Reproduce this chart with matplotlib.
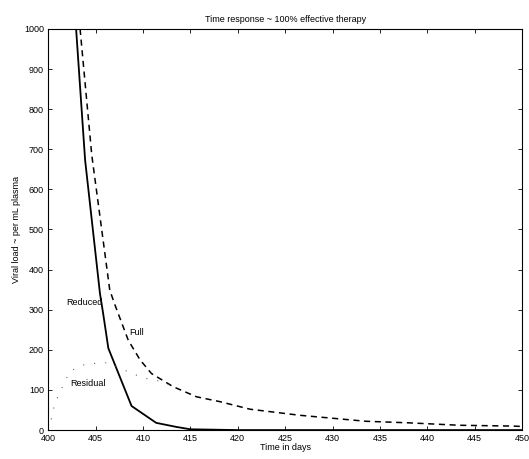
import matplotlib
matplotlib.use("Agg")
import matplotlib.pyplot as plt

# Readings from the scanned figure (day, viral load per mL)
solid_days = [402.95, 403.9, 405.47, 405.8, 406.35, 408.8, 411.4, 413.5, 415.0, 420.0, 450.0]
solid_load = [1000, 673, 340, 291, 204, 60, 18, 8, 2, 0, 0]

dashed_days = [403.37, 404.6, 406.5, 407.05, 408.45, 409.7, 410.9, 413.2, 415.65,
               418.1, 421.3, 426.5, 433.5, 438.1, 443.4, 449.0, 450.0]
dashed_load = [1000, 686, 349, 312, 224, 175, 141, 108, 83,
               71, 52, 37, 22, 18, 12, 10, 9]

dotted_days = [400.0, 400.4, 400.7, 401.6, 402.3, 404.0, 406.35, 408.0, 410.0, 411.8, 413.2]
dotted_load = [0, 33, 67, 112, 147, 165, 168, 150, 130, 122, 108]

labels = ["Reduced", "Full", "Residual"]
label_pos = [(401.9, 317), (408.6, 243), (402.3, 117)]

plt.rcParams["font.family"] = ["Liberation Sans", "DejaVu Sans"]

fig = plt.figure(figsize=(5.29, 4.59), dpi=100)
ax = fig.add_axes([0.091, 0.063, 0.896, 0.874])

ax.plot(solid_days, solid_load, color="black", linewidth=1.3)
ax.plot(dashed_days, dashed_load, color="black", linewidth=1.1, linestyle=(0, (4, 3)))
ax.plot(dotted_days, dotted_load, color="#666666", linewidth=0.8, linestyle=(0, (1, 9)))

for text, (x, y) in zip(labels, label_pos):
    ax.text(x, y, text, fontsize=6.5, ha="left", va="center")

ax.set_xlim(400, 450)
ax.set_ylim(0, 1000)
ax.set_xticks(range(400, 451, 5))
ax.set_yticks(range(0, 1001, 100))
ax.tick_params(direction="in", length=3, width=0.6, labelsize=6.5, top=True, right=True)
ax.tick_params(axis="x", pad=3)
ax.tick_params(axis="y", pad=3)
for s in ax.spines.values():
    s.set_linewidth(0.8)

ax.set_title("Time response ~ 100% effective therapy", fontsize=6.5, pad=5)
ax.set_xlabel("Time in days", fontsize=6.5, labelpad=0)
ax.set_ylabel("Viral load ~ per mL plasma", fontsize=6.5, labelpad=2)

fig.savefig("out.png", dpi=100)
